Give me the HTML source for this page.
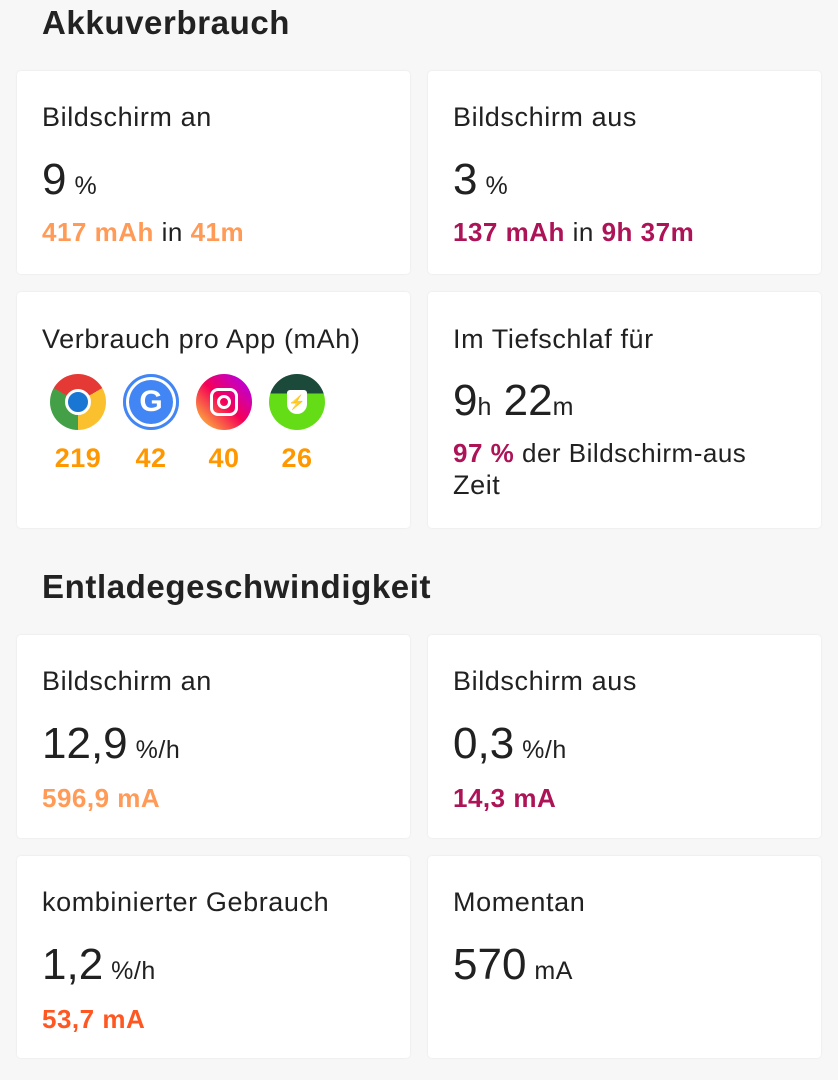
<!DOCTYPE html>
<html><head><meta charset="utf-8"><style>
body{margin:0;width:838px;height:1080px;background:#f7f7f7;font-family:"Liberation Sans",sans-serif;color:#212121;position:relative;overflow:hidden}
.h{position:absolute;left:42px;font-size:33px;font-weight:bold;color:#222;letter-spacing:0.6px}
.c{position:absolute;background:#fff;border-radius:4px;width:393px;box-shadow:0 0 2px rgba(0,0,0,.08)}
.t{position:absolute;left:25px;font-size:27px;letter-spacing:0.6px;white-space:nowrap}
.b{position:absolute;left:25px;font-size:44px;white-space:nowrap}
.b small{font-size:25px;margin-left:8px;letter-spacing:0.5px}
.s{position:absolute;left:25px;font-size:26px;letter-spacing:0.5px;font-weight:bold;white-space:nowrap}
.o{color:#ff9a57}.m{color:#ad1457}.r{color:#ff5722}.n{font-weight:normal;color:#212121}
.ic{position:absolute;top:82px;width:56px;height:56px;border-radius:50%}
.num{position:absolute;top:151px;font-size:27px;letter-spacing:0.5px;font-weight:bold;color:#ff9800;width:70px;text-align:center}
</style></head><body>
<div class="h" style="top:4px">Akkuverbrauch</div>
<div class="c" style="left:17px;top:71px;height:203px">
<div class="t" style="top:31px">Bildschirm an</div>
<div class="b" style="top:84px">9<small>%</small></div>
<div class="s o" style="top:146px">417 mAh <span class="n">in</span> 41m</div></div>
<div class="c" style="left:428px;top:71px;height:203px">
<div class="t" style="top:31px">Bildschirm aus</div>
<div class="b" style="top:84px">3<small>%</small></div>
<div class="s m" style="top:146px">137 mAh <span class="n">in</span> 9h 37m</div></div>
<div class="c" style="left:17px;top:292px;height:236px">
<div class="t" style="top:32px">Verbrauch pro App (mAh)</div>
<div class="ic" style="left:33px;background:conic-gradient(from 60deg,#fbc02d 0 120deg,#43a047 120deg 240deg,#e53935 240deg 360deg)"><div style="position:absolute;left:15px;top:15px;width:26px;height:26px;border-radius:50%;background:#1976d2;border:3px solid #fff;box-sizing:border-box"></div></div>
<div class="ic" style="left:106px;background:#4285f4;box-shadow:inset 0 0 0 3px #4285f4,inset 0 0 0 6px #fff;color:#fff;font-weight:bold;font-size:30px;text-align:center;line-height:56px">G</div>
<div class="ic" style="left:179px;background:linear-gradient(45deg,#fdd835,#f50057 50%,#aa00ff)"><div style="position:absolute;left:14px;top:14px;width:28px;height:28px;border:3px solid #fff;border-radius:8px;box-sizing:border-box"></div><div style="position:absolute;left:21px;top:21px;width:14px;height:14px;border:3px solid #fff;border-radius:50%;box-sizing:border-box"></div></div>
<div class="ic" style="left:252px;background:linear-gradient(#1b4a3a 0 35%,#64dd17 35%)"><div style="position:absolute;left:18px;top:16px;width:20px;height:24px;background:#fff;border-radius:3px 3px 10px 10px;color:#2e7d32;font-size:14px;text-align:center;line-height:24px">⚡</div></div>
<div class="num" style="left:26px">219</div><div class="num" style="left:99px">42</div><div class="num" style="left:172px">40</div><div class="num" style="left:245px">26</div></div>
<div class="c" style="left:428px;top:292px;height:236px">
<div class="t" style="top:32px">Im Tiefschlaf für</div>
<div class="b" style="top:84px">9<span style="font-size:25px">h</span> 22<span style="font-size:25px">m</span></div>
<div class="s m" style="top:146px">97 % <span class="n">der Bildschirm-aus</span></div>
<div class="t" style="top:178px">Zeit</div></div>
<div class="h" style="top:568px">Entladegeschwindigkeit</div>
<div class="c" style="left:17px;top:635px;height:203px">
<div class="t" style="top:31px">Bildschirm an</div>
<div class="b" style="top:84px">12,9<small>%/h</small></div>
<div class="s o" style="top:148px">596,9 mA</div></div>
<div class="c" style="left:428px;top:635px;height:203px">
<div class="t" style="top:31px">Bildschirm aus</div>
<div class="b" style="top:84px">0,3<small>%/h</small></div>
<div class="s m" style="top:148px">14,3 mA</div></div>
<div class="c" style="left:17px;top:856px;height:202px">
<div class="t" style="top:31px">kombinierter Gebrauch</div>
<div class="b" style="top:84px">1,2<small>%/h</small></div>
<div class="s r" style="top:148px">53,7 mA</div></div>
<div class="c" style="left:428px;top:856px;height:202px">
<div class="t" style="top:31px">Momentan</div>
<div class="b" style="top:84px">570<small>mA</small></div></div>
</body></html>
